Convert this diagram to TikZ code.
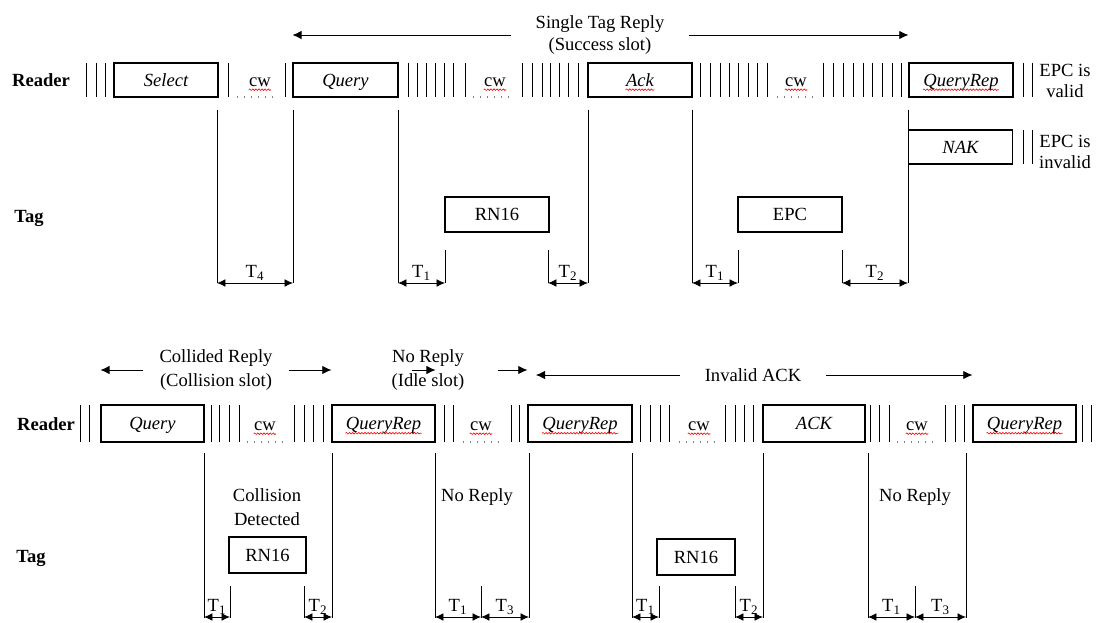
\documentclass[tikz,border=0pt]{standalone}
\usepackage{fontspec}
\setmainfont{Liberation Serif}
\usetikzlibrary{arrows.meta,positioning,calc,decorations.pathmorphing}

\AtBeginDocument{\fontsize{13.2pt}{17pt}\selectfont}

\begin{document}
\begin{tikzpicture}[
    x=0.025cm, y=-0.025cm,
    line width=0.6pt,
    base/.style={text height=10pt, text depth=1.4pt},
    msg/.style={base, draw, line width=0.8pt, minimum width=2.6cm, minimum height=0.85cm, inner sep=0pt, font=\itshape},
    reply/.style={base, draw, line width=0.8pt, minimum width=2.6cm, minimum height=0.875cm, inner sep=0pt},
    word/.style={base, inner sep=0pt},
    row/.style={base, font=\bfseries},
    tick/.style={line width=0.6pt},
    gap/.style={gray, line width=0.8pt, dash pattern=on 0.8pt off 4.2pt},
    squig/.style={red, line width=0.45pt, decorate,
                  decoration={snake, amplitude=0.55pt, segment length=2.2pt}},
    arr/.style={-{Latex[length=6.5pt,width=6pt]}},
    dim/.style={{Latex[length=6pt,width=5.5pt]}-{Latex[length=6pt,width=5.5pt]}},
    tlab/.style={above, inner sep=1.5pt},
    note/.style={align=center}
  ]
  \useasboundingbox (0,0) rectangle (1097,623);

  %% ---------------- Success slot ----------------
  \node[row] (reader1) at (41,80) {Reader};
  \node[row] (tag1) at (29,216) {Tag};

  %% Reader commands
  \node[msg] (sel)   at (166,80)   {Select};
  \node[msg, minimum width=2.625cm] (qry) at (345.5,80) {Query};
  \node[msg] (ack)   at (640,80)   {};
  \node[word, font=\itshape] (ack-t) at (ack) {Ack};
  \node[msg] (qrep)  at (961,80)   {};
  \node[word, font=\itshape] (qrep-t) at (qrep) {QueryRep};
  \node[msg] (nak)   at (960.5,147) {NAK};

  %% Tag replies
  \node[reply] (rn1) at (497,214.5) {RN16};
  \node[reply] (epc) at (790,214.5) {EPC};

  %% Continuous wave
  \node[word] (cw1) at (260,80) {cw};
  \node[word] (cw2) at (495,80) {cw};
  \node[word] (cw3) at (796,80) {cw};
  \draw[gap] (237,97) -- (277,97);
  \draw[gap] (473,97) -- (512,97);
  \draw[gap] (777,97) -- (815,97);

  \foreach \x in {86,96,105,228,285,408,417,426,435,444,453,465,
                  522,532,542,550,559,568,578,700,710,720,729,738,748,757,767,
                  823,833,843,853,863,872,882,892,901,1023,1032}
    \draw[tick] (\x,63) -- (\x,97);
  \foreach \x in {1023,1032}
    \draw[tick] (\x,130) -- (\x,164);

  \node[note] (valid)   at (1065,81)  {EPC is\\[-2pt]valid};
  \node[note] (invalid) at (1065,152) {EPC is\\[-2pt]invalid};

  %% Slot caption
  \node[note] (single) at (600,35) {Single Tag Reply\\[-1pt](Success slot)};
  \draw[arr, shorten <=13pt] (single.west) -- (single.west -| qry.west);
  \draw[arr, shorten <=13pt] (single.east) -- (single.east -| qrep.west);

  %% Timing lines
  \foreach \x in {217,293,398,588,692,908}
    \draw (\x,110) -- (\x,283);
  \foreach \x in {445,548,738,842}
    \draw (\x,250) -- (\x,283);
  \foreach \a/\b/\t in {217/293/4,398/445/1,548/588/2,692/738/1,842/908/2}
    \draw[dim] (\a,283) -- node[tlab] {T\textsubscript{\t}} (\b,283);

  %% ---------------- Collision, idle and invalid ACK ----------------
  \node[row] (reader2) at (46,424) {Reader};
  \node[row] (tag2) at (31,556) {Tag};

  \node[msg, minimum width=2.575cm, minimum height=0.925cm] (bqry) at (152.5,423.5) {Query};
  \node[msg, minimum width=2.575cm, minimum height=0.925cm] (bqr1) at (383.5,423.5) {};
  \node[msg, minimum width=2.6cm,   minimum height=0.925cm] (bqr2) at (580,423.5)   {};
  \node[msg, minimum width=2.55cm,  minimum height=0.925cm] (back) at (814,423.5)   {ACK};
  \node[msg, minimum width=2.575cm, minimum height=0.925cm] (bqr3) at (1024.5,423.5) {};
  \node[word, font=\itshape] (bqr1-t) at (bqr1) {QueryRep};
  \node[word, font=\itshape] (bqr2-t) at (bqr2) {QueryRep};
  \node[word, font=\itshape] (bqr3-t) at (bqr3) {QueryRep};

  \node[reply, minimum width=1.925cm, minimum height=0.9cm] (rn2) at (267.5,555) {RN16};
  \node[reply, minimum width=1.95cm,  minimum height=0.9cm] (rn3) at (696,557)   {RN16};

  \node[word] (cw4) at (265,424) {cw};
  \node[word] (cw5) at (481,424) {cw};
  \node[word] (cw6) at (699,424) {cw};
  \node[word] (cw7) at (917,424) {cw};
  \draw[gap] (247,442) -- (286,442);
  \draw[gap] (463,442) -- (502,442);
  \draw[gap] (679,442) -- (716,442);
  \draw[gap] (897,442) -- (936,442);

  \foreach \x in {80,89,211,219,229,239,294,304,313,323,444,453,511,519,
                  640,650,660,669,725,735,744,753,870,879,889,945,955,964,1082,1091}
    \draw[tick] (\x,405) -- (\x,442);

  %% spell-check waves
  \foreach \n in {ack-t,qrep-t,cw1,cw2,cw3,cw4,cw5,cw6,cw7,bqr1-t,bqr2-t,bqr3-t}
    \draw[squig] ([yshift=-2.6pt]\n.base west) -- ([yshift=-2.6pt]\n.base east);

  %% Slot captions
  \node[note] (collided) at (216,370) {Collided Reply\\(Collision slot)};
  \node[note] (idle)     at (428,370) {No Reply\\(Idle slot)};
  \node[base] (invack)   at (753,375) {Invalid ACK};
  \draw[arr, shorten <=7pt]  (collided.west) -- (collided.west -| bqry.west);
  \draw[arr, shorten <=7pt]  (collided.east) -- (collided.east -| bqr1.west);
  \draw[arr, shorten <=19pt] (idle.west) -- (idle.west -| bqr1.east);
  \draw[arr, shorten <=19pt] (idle.east) -- (idle.east -| bqr2.west);
  \draw[arr, shorten <=13pt] (invack.west) -- ([xshift=6pt]invack.west -| bqr2.west);
  \draw[arr, shorten <=13pt] (invack.east) -- (invack.east -| bqr3.west);

  %% Tag side notes
  \node[note] (detect) at (267,507) {Collision\\Detected};
  \node[base] (noreply1) at (477,495) {No Reply};
  \node[base] (noreply2) at (915,495) {No Reply};

  %% Timing lines
  \foreach \x in {204,332,435,529,632,763,868,966}
    \draw (\x,453) -- (\x,618);
  \foreach \x in {230,304,481,659,735,915}
    \draw (\x,586) -- (\x,618);
  \foreach \a/\b/\t in {204/230/1,304/332/2,435/481/1,481/529/3,
                        632/659/1,735/763/2,868/915/1,915/966/3}
    \draw[dim] (\a,617) -- node[tlab] {T\textsubscript{\t}} (\b,617);

\end{tikzpicture}
\end{document}
